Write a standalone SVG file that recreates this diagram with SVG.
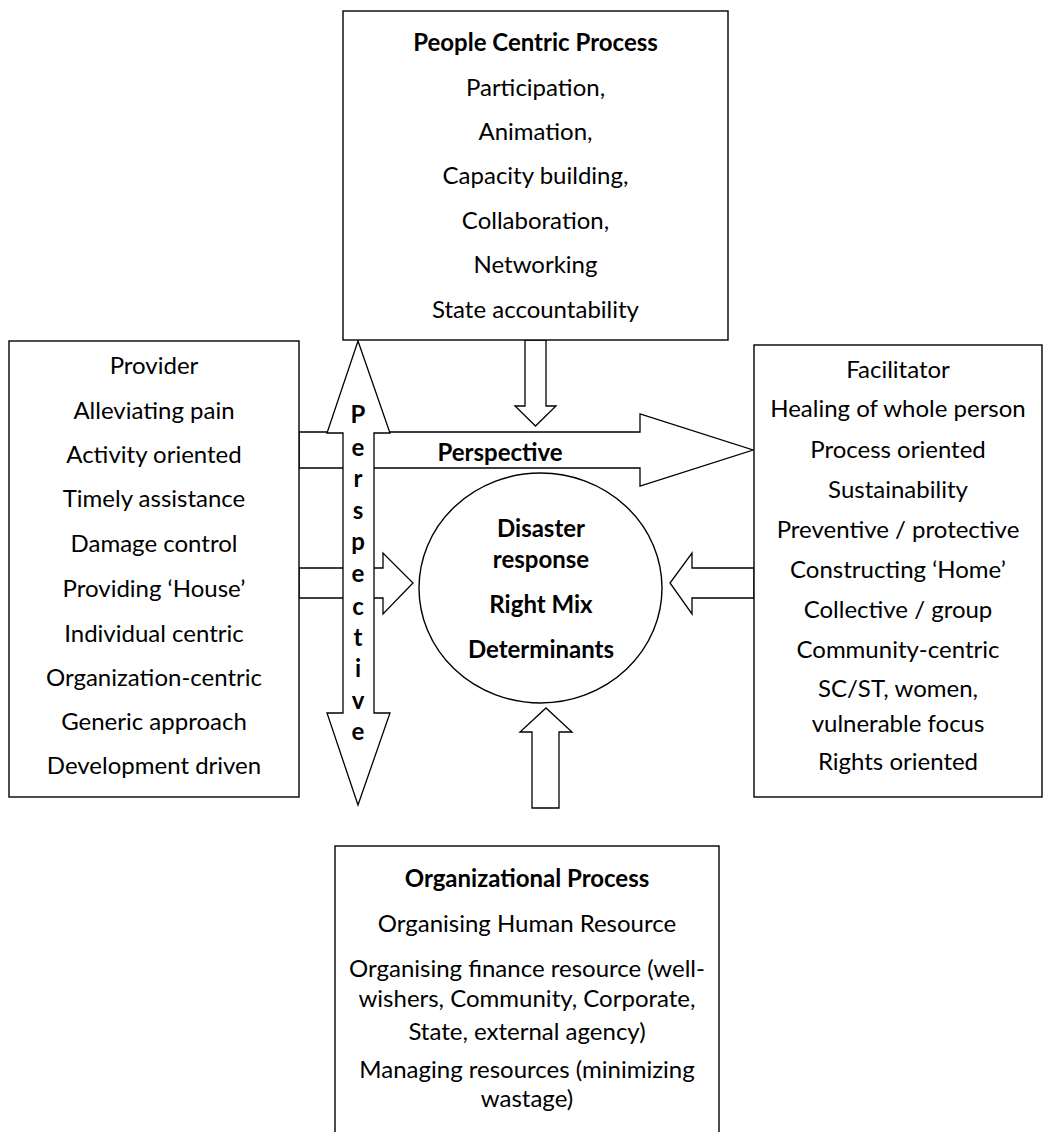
<svg xmlns="http://www.w3.org/2000/svg" width="1043" height="1132" viewBox="0 0 1043 1132">
<style>
.box{fill:#fff;stroke:#000;stroke-width:1.4}
.arr{fill:#fff;stroke:#000;stroke-width:1.3;stroke-linejoin:miter}
text{font-family:Lato,"Open Sans","Liberation Sans",sans-serif;font-size:24px;fill:#000;text-anchor:middle}
.b{font-weight:bold}
</style>
<rect width="1043" height="1132" fill="#fff"/>
<g id="connectors">
<polygon class="arr" points="299,432 640,432 640,414 753,450 640,486 640,468 299,468"/>
<polygon class="arr" points="299,568 383,568 383,553 413,583 383,614 383,598 299,598"/>
<polygon class="arr" points="754,568 692,568 692,553 670,583 692,614 692,598 754,598"/>
<polygon class="arr" points="525,340 546,340 546,406 556,406 535.5,426 515,406 525,406"/>
<polygon class="arr" points="532,808 532,732 520,732 546,708 572,732 559,732 559,808"/>
<polygon class="arr" points="358,341 390,433 374,433 374,713 390,713 358,805 327,713 343,713 343,433 327,433"/>
<text class="b" x="500" y="461">Perspective</text>
<g class="b">
<text class="b" x="358" y="423">P</text>
<text class="b" x="358" y="456">e</text>
<text class="b" x="358" y="487">r</text>
<text class="b" x="358" y="519">s</text>
<text class="b" x="358" y="550">p</text>
<text class="b" x="358" y="582">e</text>
<text class="b" x="358" y="615">c</text>
<text class="b" x="358" y="646">t</text>
<text class="b" x="358" y="677">i</text>
<text class="b" x="358" y="709">v</text>
<text class="b" x="358" y="740">e</text>
</g>
</g>
<g id="top-box">
<rect class="box" x="343" y="11" width="385" height="329"/>
<text class="b" x="535.5" y="51">People Centric Process</text>
<text x="535.5" y="96">Participation,</text>
<text x="535.5" y="140">Animation,</text>
<text x="535.5" y="184">Capacity building,</text>
<text x="535.5" y="229">Collaboration,</text>
<text x="535.5" y="273">Networking</text>
<text x="535.5" y="318">State accountability</text>
</g>
<g id="left-box">
<rect class="box" x="9" y="341" width="290" height="456"/>
<text x="154" y="374">Provider</text>
<text x="154" y="419">Alleviating pain</text>
<text x="154" y="463">Activity oriented</text>
<text x="154" y="507">Timely assistance</text>
<text x="154" y="552">Damage control</text>
<text x="154" y="597">Providing ‘House’</text>
<text x="154" y="642">Individual centric</text>
<text x="154" y="686">Organization-centric</text>
<text x="154" y="730">Generic approach</text>
<text x="154" y="774">Development driven</text>
</g>
<g id="right-box">
<rect class="box" x="754" y="345" width="288" height="452"/>
<text x="898" y="378">Facilitator</text>
<text x="898" y="417">Healing of whole person</text>
<text x="898" y="458">Process oriented</text>
<text x="898" y="498">Sustainability</text>
<text x="898" y="538">Preventive / protective</text>
<text x="898" y="578">Constructing ‘Home’</text>
<text x="898" y="618">Collective / group</text>
<text x="898" y="658">Community-centric</text>
<text x="898" y="697">SC/ST, women,</text>
<text x="898" y="732">vulnerable focus</text>
<text x="898" y="770">Rights oriented</text>
</g>
<g id="center">
<ellipse class="box" cx="540.5" cy="588" rx="121.5" ry="115"/>
<text class="b" x="541" y="537">Disaster</text>
<text class="b" x="541" y="568">response</text>
<text class="b" x="541" y="613">Right Mix</text>
<text class="b" x="541" y="658">Determinants</text>
</g>
<g id="bottom-box">
<rect class="box" x="335" y="846" width="384" height="300"/>
<text class="b" x="527" y="887">Organizational Process</text>
<text x="527" y="932">Organising Human Resource</text>
<text x="527" y="977">Organising finance resource (well-</text>
<text x="527" y="1007">wishers, Community, Corporate,</text>
<text x="527" y="1040">State, external agency)</text>
<text x="527" y="1078">Managing resources (minimizing</text>
<text x="527" y="1107">wastage)</text>
</g>
</svg>
